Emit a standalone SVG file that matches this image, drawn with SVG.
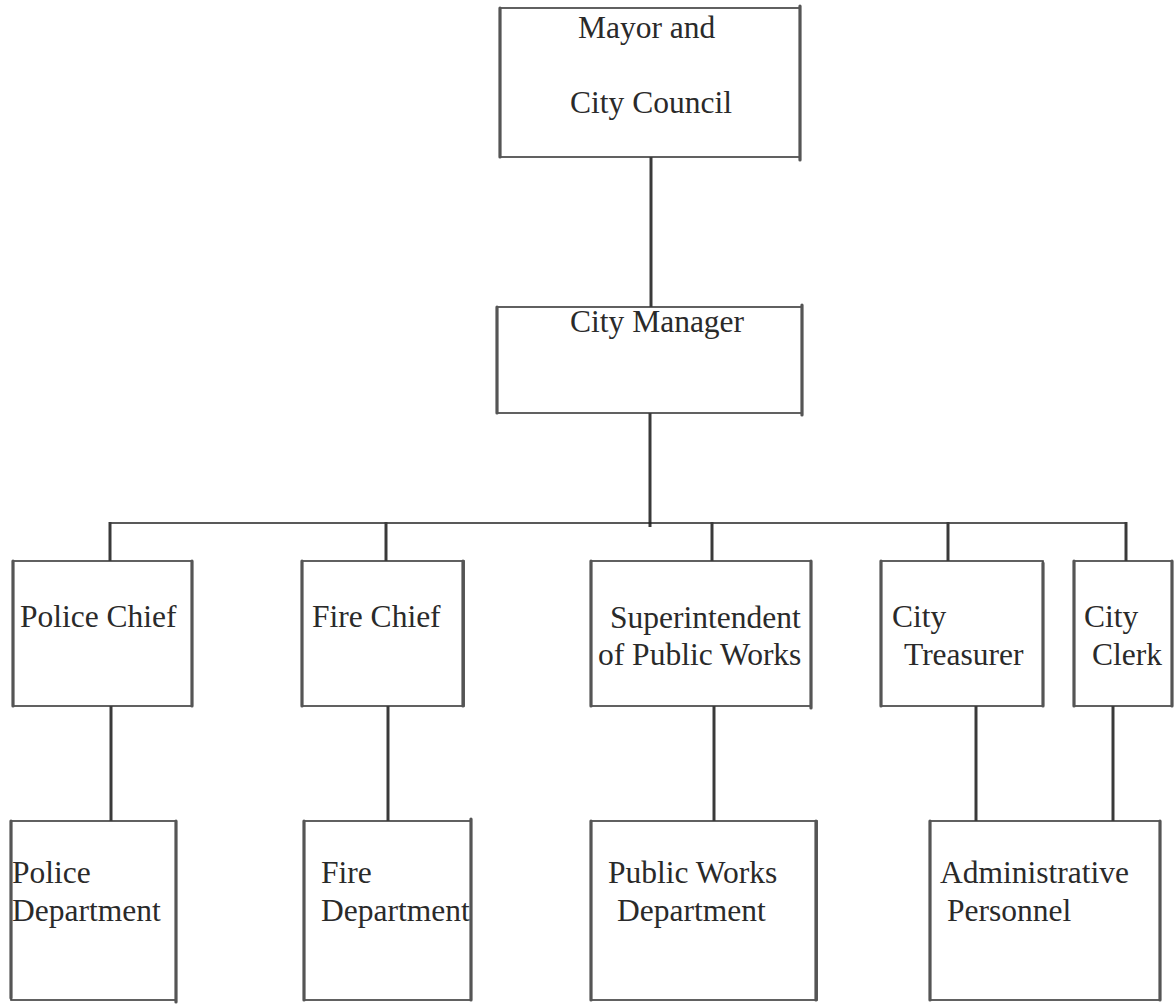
<svg xmlns="http://www.w3.org/2000/svg" width="1175" height="1004" viewBox="0 0 1175 1004">
<style>
.bg{fill:#ffffff}
.box{fill:#ffffff;stroke:#3a3a3a;stroke-width:1.6}
.side{stroke:#555555;stroke-width:3.2;stroke-linecap:round}
.conn{stroke:#3a3a3a;stroke-width:3;fill:none}
.bus{stroke:#222222;stroke-width:1.6;fill:none}
.lbl{font-family:'Liberation Serif','Times New Roman','DejaVu Serif',Times,serif;font-size:31.5px;fill:#2a2a2a}
</style>
<rect class="bg" x="0" y="0" width="1175" height="1004"/>
<g id="connectors">
<line class="conn" x1="651" y1="157" x2="651" y2="307"/>
<line class="conn" x1="650" y1="413" x2="650" y2="527"/>
<line class="bus" x1="110" y1="523" x2="1127" y2="523"/>
<line class="conn" x1="110" y1="522" x2="110" y2="561"/>
<line class="conn" x1="386" y1="522" x2="386" y2="561"/>
<line class="conn" x1="712" y1="522" x2="712" y2="561"/>
<line class="conn" x1="948" y1="522" x2="948" y2="561"/>
<line class="conn" x1="1126" y1="522" x2="1126" y2="561"/>
<line class="conn" x1="111" y1="706" x2="111" y2="821"/>
<line class="conn" x1="388" y1="706" x2="388" y2="821"/>
<line class="conn" x1="714" y1="706" x2="714" y2="821"/>
<line class="conn" x1="976" y1="706" x2="976" y2="821"/>
<line class="conn" x1="1113" y1="706" x2="1113" y2="821"/>
</g>
<g id="mayor">
<rect class="box" x="500" y="8" width="300" height="149"/>
<line class="side" x1="500" y1="8" x2="500" y2="157"/>
<line class="side" x1="800" y1="6" x2="800" y2="160"/>
<text class="lbl" font-family="Liberation Serif, serif" x="578" y="38">Mayor and</text>
<text class="lbl" font-family="Liberation Serif, serif" x="570" y="113">City Council</text>
</g>
<g id="manager">
<rect class="box" x="497" y="307" width="305" height="106"/>
<line class="side" x1="497" y1="307" x2="497" y2="413"/>
<line class="side" x1="802" y1="305" x2="802" y2="415"/>
<text class="lbl" font-family="Liberation Serif, serif" x="570" y="332">City Manager</text>
</g>
<g id="police-chief">
<rect class="box" x="13" y="561" width="179" height="145"/>
<line class="side" x1="13" y1="561" x2="13" y2="706"/>
<line class="side" x1="192" y1="561" x2="192" y2="706"/>
<text class="lbl" font-family="Liberation Serif, serif" x="20" y="627">Police Chief</text>
</g>
<g id="fire-chief">
<rect class="box" x="302" y="561" width="162" height="145"/>
<line class="side" x1="302" y1="561" x2="302" y2="706"/>
<line class="side" x1="463" y1="561" x2="463" y2="706"/>
<text class="lbl" font-family="Liberation Serif, serif" x="312" y="627">Fire Chief</text>
</g>
<g id="superintendent">
<rect class="box" x="591" y="561" width="220" height="145"/>
<line class="side" x1="591" y1="561" x2="591" y2="706"/>
<line class="side" x1="811" y1="561" x2="811" y2="708"/>
<text class="lbl" font-family="Liberation Serif, serif" x="610" y="628">Superintendent</text>
<text class="lbl" font-family="Liberation Serif, serif" x="598" y="665">of Public Works</text>
</g>
<g id="treasurer">
<rect class="box" x="881" y="561" width="162" height="145"/>
<line class="side" x1="881" y1="561" x2="881" y2="706"/>
<line class="side" x1="1043" y1="563" x2="1043" y2="706"/>
<text class="lbl" font-family="Liberation Serif, serif" x="892" y="627">City</text>
<text class="lbl" font-family="Liberation Serif, serif" x="904" y="665">Treasurer</text>
</g>
<g id="clerk">
<rect class="box" x="1074" y="561" width="98" height="145"/>
<line class="side" x1="1074" y1="561" x2="1074" y2="706"/>
<line class="side" x1="1172" y1="561" x2="1172" y2="706"/>
<text class="lbl" font-family="Liberation Serif, serif" x="1084" y="627">City</text>
<text class="lbl" font-family="Liberation Serif, serif" x="1092" y="665">Clerk</text>
</g>
<g id="police-dept">
<rect class="box" x="11" y="821" width="165" height="179"/>
<line class="side" x1="11" y1="821" x2="11" y2="998"/>
<line class="side" x1="176" y1="821" x2="176" y2="1002"/>
<text class="lbl" font-family="Liberation Serif, serif" x="12" y="883">Police</text>
<text class="lbl" font-family="Liberation Serif, serif" x="12" y="921">Department</text>
</g>
<g id="fire-dept">
<rect class="box" x="304" y="821" width="167" height="179"/>
<line class="side" x1="304" y1="821" x2="304" y2="1000"/>
<line class="side" x1="471" y1="819" x2="471" y2="1000"/>
<text class="lbl" font-family="Liberation Serif, serif" x="321" y="883">Fire</text>
<text class="lbl" font-family="Liberation Serif, serif" x="321" y="921">Department</text>
</g>
<g id="public-works">
<rect class="box" x="591" y="821" width="226" height="179"/>
<line class="side" x1="591" y1="821" x2="591" y2="1000"/>
<line class="side" x1="816" y1="821" x2="816" y2="1000"/>
<text class="lbl" font-family="Liberation Serif, serif" x="608" y="883">Public Works</text>
<text class="lbl" font-family="Liberation Serif, serif" x="617" y="921">Department</text>
</g>
<g id="admin">
<rect class="box" x="930" y="821" width="230" height="179"/>
<line class="side" x1="930" y1="821" x2="930" y2="1000"/>
<line class="side" x1="1160" y1="821" x2="1160" y2="1000"/>
<text class="lbl" font-family="Liberation Serif, serif" x="940" y="883">Administrative</text>
<text class="lbl" font-family="Liberation Serif, serif" x="947" y="921">Personnel</text>
</g>
</svg>
